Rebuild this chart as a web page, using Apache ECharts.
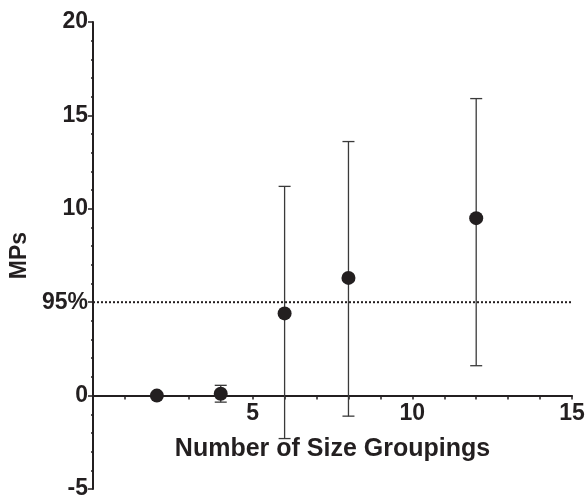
<!DOCTYPE html>
<html>
<head>
<meta charset="utf-8">
<script src="https://cdn.jsdelivr.net/npm/echarts@6/dist/echarts.min.js"></script>
<style>html,body{margin:0;padding:0;background:#fff}#c{width:587px;height:497px}</style>
</head>
<body>
<div id="c"></div>
<script>
var groupings = [2, 4, 6, 8, 12];
var meanMPs = [0, 0.1, 4.4, 6.3, 9.5];
var lowerMPs = [0, -0.35, -2.3, -1.1, 1.6];
var upperMPs = [0, 0.55, 11.2, 13.6, 15.9];
var thresholdLine = [5];
var thresholdLabel = '95%';
var xTickLabels = [5, 10, 15];

var pts = groupings.map(function (g, i) { return [g, meanMPs[i]]; });
var bars = groupings.map(function (g, i) { return [g, lowerMPs[i], upperMPs[i]]; });
var ink = '#231f20';
var font = '"Liberation Sans", Arial, Helvetica, sans-serif';

var gridTop = 22, gridBottom = 8, H = 497;
var plotH = H - gridTop - gridBottom;
var yMin = -5, yMax = 20;
var xAxisOffset = -plotH * (0 - yMin) / (yMax - yMin);

var chart = echarts.init(document.getElementById('c'), null, {renderer: 'canvas'});
chart.setOption({
  animation: false,
  grid: {left: 93, right: 15, top: gridTop, bottom: gridBottom, containLabel: false, outerBoundsMode: 'none'},
  xAxis: {
    type: 'value', min: 0, max: 15, interval: 1,
    offset: xAxisOffset,
    name: 'Number of Size Groupings', nameLocation: 'middle', nameGap: 41,
    nameTextStyle: {fontFamily: font, fontWeight: 'bold', fontSize: 25, color: ink},
    axisLine: {onZero: false, lineStyle: {color: ink, width: 2}},
    axisTick: {show: true, length: 4, lineStyle: {color: ink, width: 1.5}},
    axisLabel: {
      margin: 7, fontFamily: font, fontWeight: 'bold', fontSize: 23, color: ink,
      formatter: function (v) { return xTickLabels.indexOf(v) >= 0 ? String(v) : ''; }
    },
    splitLine: {show: false}
  },
  yAxis: {
    type: 'value', min: yMin, max: yMax, interval: 5,
    name: 'MPs', nameLocation: 'middle', nameGap: 61,
    nameTextStyle: {fontFamily: font, fontWeight: 'bold', fontSize: 23, color: ink},
    axisLine: {show: true, onZero: false, lineStyle: {color: ink, width: 2}},
    axisTick: {show: true, length: 5, lineStyle: {color: ink, width: 1.5}},
    minorTick: {show: true, splitNumber: 5, length: 2, lineStyle: {color: ink, width: 1.5}},
    axisLabel: {
      margin: 5, fontFamily: font, fontWeight: 'bold', fontSize: 23, color: ink,
      formatter: function (v) { return v === thresholdLine[0] ? thresholdLabel : String(v); }
    },
    splitLine: {show: false}
  },
  series: [
    {
      type: 'line', data: [[0, thresholdLine[0]], [15, thresholdLine[0]]],
      symbol: 'none', silent: true,
      lineStyle: {color: ink, width: 2, type: [2, 2]}, z: 1
    },
    {
      type: 'custom', data: bars, z: 2,
      renderItem: function (params, api) {
        var x = api.value(0);
        var lo = api.coord([x, api.value(1)]);
        var hi = api.coord([x, api.value(2)]);
        var cw = 6;
        var st = {stroke: '#3a3a3a', lineWidth: 1.3};
        return {
          type: 'group', children: [
            {type: 'line', shape: {x1: lo[0], y1: lo[1], x2: hi[0], y2: hi[1]}, style: st},
            {type: 'line', shape: {x1: hi[0] - cw, y1: hi[1], x2: hi[0] + cw, y2: hi[1]}, style: st},
            {type: 'line', shape: {x1: lo[0] - cw, y1: lo[1], x2: lo[0] + cw, y2: lo[1]}, style: st}
          ]
        };
      }
    },
    {
      type: 'scatter', data: pts, symbol: 'circle', symbolSize: 14, z: 3,
      itemStyle: {color: ink, opacity: 1}
    }
  ]
});
</script>
</body>
</html>
